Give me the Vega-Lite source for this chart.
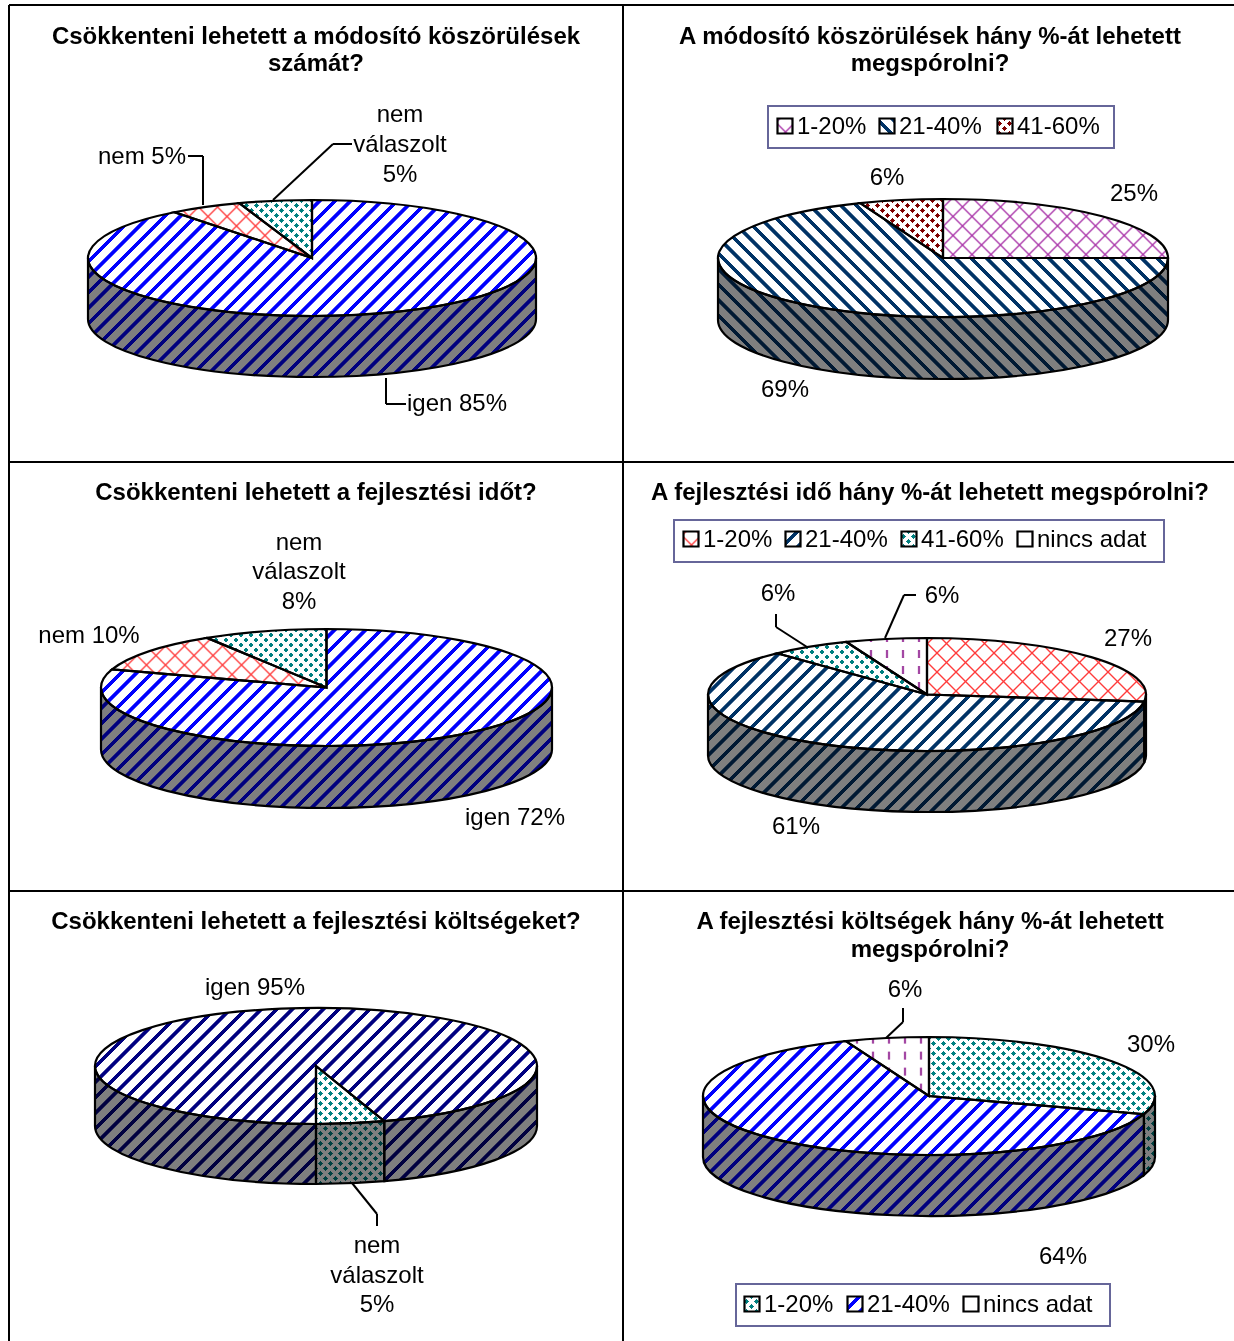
{
"$schema":"https://vega.github.io/schema/vega-lite/v6.json",
"autosize":{"type":"none"},"padding":0,"width":1234,"height":1341,"background":"white",
"config":{"view":{"stroke":null},"point":{"filled":true,"opacity":1,"size":4,"stroke":null},"text":{"font":"Liberation Sans","fontSize":24,"color":"#000","dy":1}},
"params":[
{"name":"w","value":"#fff"},{"name":"t","value":"rgba(255,255,255,0)"},{"name":"b","value":"#000"},{"name":"n","value":"rgba(0,0,0,0)"},
{"name":"corners","value":"M-240,-100L-240,-100M240,140L240,140"},
{"name":"S","expr":"[{offset:0,color:w},{offset:.009,color:w},{offset:.01,color:t},{offset:.019,color:t},{offset:.02,color:w},{offset:.029,color:w},{offset:.03,color:t},{offset:.039,color:t},{offset:.04,color:w},{offset:.049,color:w},{offset:.05,color:t},{offset:.059,color:t},{offset:.06,color:w},{offset:.069,color:w},{offset:.07,color:t},{offset:.079,color:t},{offset:.08,color:w},{offset:.089,color:w},{offset:.09,color:t},{offset:.099,color:t},{offset:.1,color:w},{offset:.109,color:w},{offset:.11,color:t},{offset:.119,color:t},{offset:.12,color:w},{offset:.129,color:w},{offset:.13,color:t},{offset:.139,color:t},{offset:.14,color:w},{offset:.149,color:w},{offset:.15,color:t},{offset:.159,color:t},{offset:.16,color:w},{offset:.169,color:w},{offset:.17,color:t},{offset:.179,color:t},{offset:.18,color:w},{offset:.189,color:w},{offset:.19,color:t},{offset:.199,color:t},{offset:.2,color:w},{offset:.209,color:w},{offset:.21,color:t},{offset:.219,color:t},{offset:.22,color:w},{offset:.229,color:w},{offset:.23,color:t},{offset:.239,color:t},{offset:.24,color:w},{offset:.249,color:w},{offset:.25,color:t},{offset:.259,color:t},{offset:.26,color:w},{offset:.269,color:w},{offset:.27,color:t},{offset:.279,color:t},{offset:.28,color:w},{offset:.289,color:w},{offset:.29,color:t},{offset:.299,color:t},{offset:.3,color:w},{offset:.309,color:w},{offset:.31,color:t},{offset:.319,color:t},{offset:.32,color:w},{offset:.329,color:w},{offset:.33,color:t},{offset:.339,color:t},{offset:.34,color:w},{offset:.349,color:w},{offset:.35,color:t},{offset:.359,color:t},{offset:.36,color:w},{offset:.369,color:w},{offset:.37,color:t},{offset:.379,color:t},{offset:.38,color:w},{offset:.389,color:w},{offset:.39,color:t},{offset:.399,color:t},{offset:.4,color:w},{offset:.409,color:w},{offset:.41,color:t},{offset:.419,color:t},{offset:.42,color:w},{offset:.429,color:w},{offset:.43,color:t},{offset:.439,color:t},{offset:.44,color:w},{offset:.449,color:w},{offset:.45,color:t},{offset:.459,color:t},{offset:.46,color:w},{offset:.469,color:w},{offset:.47,color:t},{offset:.479,color:t},{offset:.48,color:w},{offset:.489,color:w},{offset:.49,color:t},{offset:.499,color:t},{offset:.5,color:w},{offset:.509,color:w},{offset:.51,color:t},{offset:.519,color:t},{offset:.52,color:w},{offset:.529,color:w},{offset:.53,color:t},{offset:.539,color:t},{offset:.54,color:w},{offset:.549,color:w},{offset:.55,color:t},{offset:.559,color:t},{offset:.56,color:w},{offset:.569,color:w},{offset:.57,color:t},{offset:.579,color:t},{offset:.58,color:w},{offset:.589,color:w},{offset:.59,color:t},{offset:.599,color:t},{offset:.6,color:w},{offset:.609,color:w},{offset:.61,color:t},{offset:.619,color:t},{offset:.62,color:w},{offset:.629,color:w},{offset:.63,color:t},{offset:.639,color:t},{offset:.64,color:w},{offset:.649,color:w},{offset:.65,color:t},{offset:.659,color:t},{offset:.66,color:w},{offset:.669,color:w},{offset:.67,color:t},{offset:.679,color:t},{offset:.68,color:w},{offset:.689,color:w},{offset:.69,color:t},{offset:.699,color:t},{offset:.7,color:w},{offset:.709,color:w},{offset:.71,color:t},{offset:.719,color:t},{offset:.72,color:w},{offset:.729,color:w},{offset:.73,color:t},{offset:.739,color:t},{offset:.74,color:w},{offset:.749,color:w},{offset:.75,color:t},{offset:.759,color:t},{offset:.76,color:w},{offset:.769,color:w},{offset:.77,color:t},{offset:.779,color:t},{offset:.78,color:w},{offset:.789,color:w},{offset:.79,color:t},{offset:.799,color:t},{offset:.8,color:w},{offset:.809,color:w},{offset:.81,color:t},{offset:.819,color:t},{offset:.82,color:w},{offset:.829,color:w},{offset:.83,color:t},{offset:.839,color:t},{offset:.84,color:w},{offset:.849,color:w},{offset:.85,color:t},{offset:.859,color:t},{offset:.86,color:w},{offset:.869,color:w},{offset:.87,color:t},{offset:.879,color:t},{offset:.88,color:w},{offset:.889,color:w},{offset:.89,color:t},{offset:.899,color:t},{offset:.9,color:w},{offset:.909,color:w},{offset:.91,color:t},{offset:.919,color:t},{offset:.92,color:w},{offset:.929,color:w},{offset:.93,color:t},{offset:.939,color:t},{offset:.94,color:w},{offset:.949,color:w},{offset:.95,color:t},{offset:.959,color:t},{offset:.96,color:w},{offset:.969,color:w},{offset:.97,color:t},{offset:.979,color:t},{offset:.98,color:w},{offset:.989,color:w},{offset:.99,color:t},{offset:.999,color:t}]"},
{"name":"T","expr":"[{offset:.016,color:n},{offset:.02,color:b},{offset:.024,color:n},{offset:.056,color:n},{offset:.06,color:b},{offset:.064,color:n},{offset:.096,color:n},{offset:.1,color:b},{offset:.104,color:n},{offset:.136,color:n},{offset:.14,color:b},{offset:.144,color:n},{offset:.176,color:n},{offset:.18,color:b},{offset:.184,color:n},{offset:.216,color:n},{offset:.22,color:b},{offset:.224,color:n},{offset:.256,color:n},{offset:.26,color:b},{offset:.264,color:n},{offset:.296,color:n},{offset:.3,color:b},{offset:.304,color:n},{offset:.336,color:n},{offset:.34,color:b},{offset:.344,color:n},{offset:.376,color:n},{offset:.38,color:b},{offset:.384,color:n},{offset:.416,color:n},{offset:.42,color:b},{offset:.424,color:n},{offset:.456,color:n},{offset:.46,color:b},{offset:.464,color:n},{offset:.496,color:n},{offset:.5,color:b},{offset:.504,color:n},{offset:.536,color:n},{offset:.54,color:b},{offset:.544,color:n},{offset:.576,color:n},{offset:.58,color:b},{offset:.584,color:n},{offset:.616,color:n},{offset:.62,color:b},{offset:.624,color:n},{offset:.656,color:n},{offset:.66,color:b},{offset:.664,color:n},{offset:.696,color:n},{offset:.7,color:b},{offset:.704,color:n},{offset:.736,color:n},{offset:.74,color:b},{offset:.744,color:n},{offset:.776,color:n},{offset:.78,color:b},{offset:.784,color:n},{offset:.816,color:n},{offset:.82,color:b},{offset:.824,color:n},{offset:.856,color:n},{offset:.86,color:b},{offset:.864,color:n},{offset:.896,color:n},{offset:.9,color:b},{offset:.904,color:n},{offset:.936,color:n},{offset:.94,color:b},{offset:.944,color:n},{offset:.976,color:n},{offset:.98,color:b},{offset:.984,color:n}]"},
{"name":"gUp","expr":"{gradient:'linear',x1:-.09375,y1:0,x2:1.19792,y2:.64583,stops:S}"},
{"name":"gUp2","expr":"{gradient:'linear',x1:-.09896,y1:0,x2:1.19271,y2:.64583,stops:S}"},
{"name":"gDown","expr":"{gradient:'linear',x1:0,y1:1.02083,x2:1.29167,y2:.375,stops:S}"},
{"name":"gDown2","expr":"{gradient:'linear',x1:0,y1:1.03125,x2:1.29167,y2:.38542,stops:S}"},
{"name":"gDotU","expr":"{gradient:'linear',x1:.28125,y1:0,x2:1.11458,y2:.41667,stops:S}"},
{"name":"gDotD","expr":"{gradient:'linear',x1:0,y1:.25,x2:.83333,y2:-.16667,stops:S}"},
{"name":"gDash","expr":"{gradient:'linear',x1:0,y1:0,x2:0,y2:3.33333,stops:S}"},
{"name":"tUp","expr":"{gradient:'linear',x1:.1875,y1:0,x2:.97917,y2:.39583,stops:T}"},
{"name":"tDown","expr":"{gradient:'linear',x1:0,y1:.27083,x2:.79167,y2:-.125,stops:T}"},
{"name":"tVert","expr":"{gradient:'linear',x1:0,y1:0,x2:.83333,y2:0,stops:T}"}
],
"datasets":{
"slices":[
{"panel":"q1","n":1,"answer":"igen","pct":85},{"panel":"q1","n":2,"answer":"nem","pct":5},{"panel":"q1","n":3,"answer":"nem válaszolt","pct":5},
{"panel":"q2","n":1,"answer":"1-20%","pct":25},{"panel":"q2","n":2,"answer":"21-40%","pct":69},{"panel":"q2","n":3,"answer":"41-60%","pct":6},
{"panel":"q3","n":1,"answer":"igen","pct":72},{"panel":"q3","n":2,"answer":"nem","pct":10},{"panel":"q3","n":3,"answer":"nem válaszolt","pct":8},
{"panel":"q4","n":1,"answer":"1-20%","pct":27},{"panel":"q4","n":2,"answer":"21-40%","pct":61},{"panel":"q4","n":3,"answer":"41-60%","pct":6},{"panel":"q4","n":4,"answer":"nincs adat","pct":6},
{"panel":"q5","n":1,"answer":"igen","pct":95},{"panel":"q5","n":2,"answer":"nem válaszolt","pct":5},
{"panel":"q6","n":1,"answer":"1-20%","pct":30},{"panel":"q6","n":2,"answer":"21-40%","pct":64},{"panel":"q6","n":3,"answer":"nincs adat","pct":6}
],
"pieGeometry":[
{"panel":"q1","cx":312,"cy":258,"a":224,"b":58,"h":61,"rot":0},
{"panel":"q2","cx":943,"cy":258,"a":225,"b":59,"h":62,"rot":0},
{"panel":"q3","cx":326.5,"cy":687.5,"a":225.5,"b":58.5,"h":62,"rot":0},
{"panel":"q4","cx":927,"cy":694.5,"a":219,"b":56.5,"h":61,"rot":0},
{"panel":"q5","cx":316,"cy":1066,"a":221,"b":58,"h":60,"rot":180},
{"panel":"q6","cx":929,"cy":1096,"a":226,"b":59,"h":61,"rot":0}
],
"sliceStyle":[
{"id":"q1|igen","hue":"#0000FF","hatch":"up"},{"id":"q1|nem","hue":"#FF3B3B","hatch":"cross"},{"id":"q1|nem válaszolt","hue":"#008080","hatch":"dots"},
{"id":"q2|1-20%","hue":"#A833A8","hatch":"cross","lx":785,"ly":126},{"id":"q2|21-40%","hue":"#003366","hatch":"down","lx":887,"ly":126},{"id":"q2|41-60%","hue":"#800000","hatch":"dots","lx":1005,"ly":126},
{"id":"q3|igen","hue":"#0000FF","hatch":"up"},{"id":"q3|nem","hue":"#FF3B3B","hatch":"cross"},{"id":"q3|nem válaszolt","hue":"#008080","hatch":"dots"},
{"id":"q4|1-20%","hue":"#FF3B3B","hatch":"cross","lx":691,"ly":539},{"id":"q4|21-40%","hue":"#003366","hatch":"up","lx":793,"ly":539},{"id":"q4|41-60%","hue":"#008080","hatch":"dots","lx":909,"ly":539},{"id":"q4|nincs adat","hue":"#993399","hatch":"vdash","lx":1025,"ly":539},
{"id":"q5|igen","hue":"#000080","hatch":"up"},{"id":"q5|nem válaszolt","hue":"#008080","hatch":"dots"},
{"id":"q6|1-20%","hue":"#008080","hatch":"dots","lx":752,"ly":1304},{"id":"q6|21-40%","hue":"#0000FF","hatch":"up","lx":855,"ly":1304},{"id":"q6|nincs adat","hue":"#993399","hatch":"vdash","lx":971,"ly":1304}
],
"legendBoxes":[{"x":768,"x2":1114,"y":106,"y2":148},{"x":674,"x2":1164,"y":520,"y2":562},{"x":736,"x2":1110,"y":1284,"y2":1326}],
"tableLines":[
{"x":9,"y":5,"x2":9,"y2":1341},{"x":623,"y":5,"x2":623,"y2":1341},{"x":9,"y":5,"x2":1234,"y2":5},{"x":9,"y":462,"x2":1234,"y2":462},{"x":9,"y":891,"x2":1234,"y2":891}
],
"leaders":[
{"x":188,"y":156,"x2":203,"y2":156},{"x":203,"y":156,"x2":203,"y2":205},
{"x":352,"y":144,"x2":333,"y2":144},{"x":333,"y":144,"x2":273,"y2":200},
{"x":386,"y":378,"x2":386,"y2":404},{"x":386,"y":404,"x2":406,"y2":404},
{"x":776,"y":614,"x2":776,"y2":627},{"x":776,"y":627,"x2":807,"y2":647},
{"x":885,"y":638,"x2":904,"y2":595},{"x":904,"y":595,"x2":916,"y2":595},
{"x":352,"y":1183,"x2":377,"y2":1214},{"x":377,"y":1214,"x2":377,"y2":1226},
{"x":903,"y":1008,"x2":903,"y2":1022},{"x":903,"y":1022,"x2":886,"y2":1038}
],
"titles":[
{"text":"Csökkenteni lehetett a módosító köszörülések","x":316,"y":36},{"text":"számát?","x":316,"y":63},
{"text":"A módosító köszörülések hány %-át lehetett","x":930,"y":36},{"text":"megspórolni?","x":930,"y":63},
{"text":"Csökkenteni lehetett a fejlesztési időt?","x":316,"y":492},
{"text":"A fejlesztési idő hány %-át lehetett megspórolni?","x":930,"y":492},
{"text":"Csökkenteni lehetett a fejlesztési költségeket?","x":316,"y":921},
{"text":"A fejlesztési költségek hány %-át lehetett","x":930,"y":921},{"text":"megspórolni?","x":930,"y":949}
],
"labels":[
{"text":"nem","x":400,"y":114},{"text":"válaszolt","x":400,"y":144},{"text":"5%","x":400,"y":174},
{"text":"nem 5%","x":142,"y":156},{"text":"igen 85%","x":457,"y":403},
{"text":"25%","x":1134,"y":193},{"text":"6%","x":887,"y":177},{"text":"69%","x":785,"y":389},
{"text":"nem","x":299,"y":542},{"text":"válaszolt","x":299,"y":571},{"text":"8%","x":299,"y":601},
{"text":"nem 10%","x":89,"y":635},{"text":"igen 72%","x":515,"y":817},
{"text":"27%","x":1128,"y":638},{"text":"6%","x":778,"y":593},{"text":"6%","x":942,"y":595},{"text":"61%","x":796,"y":826},
{"text":"igen 95%","x":255,"y":987},
{"text":"nem","x":377,"y":1245},{"text":"válaszolt","x":377,"y":1275},{"text":"5%","x":377,"y":1304},
{"text":"6%","x":905,"y":989},{"text":"30%","x":1151,"y":1044},{"text":"64%","x":1063,"y":1256}
]
},
"layer":[
{"data":{"name":"tableLines"},"mark":{"type":"rule","stroke":"#000","strokeWidth":2},
 "encoding":{"x":{"field":"x","type":"quantitative","scale":{"domain":[0,1234]},"axis":null},"y":{"field":"y","type":"quantitative","scale":{"domain":[1341,0]},"axis":null},"x2":{"field":"x2"},"y2":{"field":"y2"}}},
{"data":{"name":"legendBoxes"},"mark":{"type":"rect","fill":"white","stroke":"#666699","strokeWidth":2},
 "encoding":{"x":{"field":"x","type":"quantitative","scale":{"domain":[0,1234]},"axis":null},"y":{"field":"y","type":"quantitative","scale":{"domain":[1341,0]},"axis":null},"x2":{"field":"x2"},"y2":{"field":"y2"}}},
{"data":{"name":"slices"},
 "transform":[
 {"calculate":"datum.panel+'|'+datum.answer","as":"id"},
 {"lookup":"id","from":{"data":{"name":"sliceStyle"},"key":"id","fields":["hue","hatch","lx","ly"]}},
 {"lookup":"panel","from":{"data":{"name":"pieGeometry"},"key":"panel","fields":["cx","cy","a","b","h","rot"]}},
 {"stack":"pct","groupby":["panel"],"sort":[{"field":"n","order":"ascending"}],"offset":"normalize","as":["f0","f1"]},
 {"calculate":"datum.rot+360*datum.f0","as":"t0"},
 {"calculate":"datum.rot+360*datum.f1","as":"t1"},
 {"calculate":"datum.a*sin(datum.t0*PI/180)","as":"x0"},
 {"calculate":"-datum.b*cos(datum.t0*PI/180)","as":"y0"},
 {"calculate":"datum.a*sin(datum.t1*PI/180)","as":"x1"},
 {"calculate":"-datum.b*cos(datum.t1*PI/180)","as":"y1"},
 {"calculate":"'M0,0L'+datum.x0+','+datum.y0+'A'+datum.a+','+datum.b+' 0 '+(datum.t1-datum.t0>180?1:0)+' 1 '+datum.x1+','+datum.y1+'Z'+corners","as":"topPath"},
 {"calculate":"max(datum.t0,90)","as":"sa"},
 {"calculate":"min(datum.t1,270)","as":"ea"},
 {"calculate":"max(datum.t0,450)","as":"sb"},
 {"calculate":"min(datum.t1,630)","as":"eb"},
 {"calculate":"datum.ea>datum.sa?'M'+datum.a*sin(datum.sa*PI/180)+','+(-datum.b*cos(datum.sa*PI/180))+'A'+datum.a+','+datum.b+' 0 0 1 '+datum.a*sin(datum.ea*PI/180)+','+(-datum.b*cos(datum.ea*PI/180))+'L'+datum.a*sin(datum.ea*PI/180)+','+(datum.h-datum.b*cos(datum.ea*PI/180))+'A'+datum.a+','+datum.b+' 0 0 0 '+datum.a*sin(datum.sa*PI/180)+','+(datum.h-datum.b*cos(datum.sa*PI/180))+'Z':''","as":"sideA"},
 {"calculate":"datum.eb>datum.sb?'M'+datum.a*sin(datum.sb*PI/180)+','+(-datum.b*cos(datum.sb*PI/180))+'A'+datum.a+','+datum.b+' 0 0 1 '+datum.a*sin(datum.eb*PI/180)+','+(-datum.b*cos(datum.eb*PI/180))+'L'+datum.a*sin(datum.eb*PI/180)+','+(datum.h-datum.b*cos(datum.eb*PI/180))+'A'+datum.a+','+datum.b+' 0 0 0 '+datum.a*sin(datum.sb*PI/180)+','+(datum.h-datum.b*cos(datum.sb*PI/180))+'Z':''","as":"sideB"},
 {"calculate":"(datum.sideA+datum.sideB)==''?'':datum.sideA+datum.sideB+corners","as":"sidePath"},
 {"calculate":"isValid(datum.lx)?'M-7.5,-7.5L7.5,-7.5L7.5,7.5L-7.5,7.5Z'+corners:''","as":"legendPath"},
 {"calculate":"datum.hatch=='cross'||datum.hatch=='vdash'?'#fff':datum.hue","as":"base"},
 {"fold":["topPath","sidePath","legendPath"],"as":["face","path"]},
 {"filter":"datum.path!=''"},
 {"calculate":"datum.face=='legendPath'?datum.lx:datum.cx","as":"px"},
 {"calculate":"datum.face=='legendPath'?datum.ly:datum.cy","as":"py"}
 ],
 "encoding":{
  "x":{"field":"px","type":"quantitative","scale":{"domain":[0,1234]},"axis":null},
  "y":{"field":"py","type":"quantitative","scale":{"domain":[1341,0]},"axis":null}
 },
 "layer":[
 {"mark":{"type":"point"},"encoding":{"shape":{"field":"path","type":"nominal","scale":null,"legend":null},"fill":{"field":"base","type":"nominal","scale":null,"legend":null}}},
 {"transform":[{"filter":"datum.hatch=='up'"}],"mark":{"type":"point","fill":{"expr":"gUp"}},"encoding":{"shape":{"field":"path","type":"nominal","scale":null,"legend":null}}},
 {"transform":[{"filter":"datum.hatch=='up'"}],"mark":{"type":"point","fill":{"expr":"gUp2"}},"encoding":{"shape":{"field":"path","type":"nominal","scale":null,"legend":null}}},
 {"transform":[{"filter":"datum.hatch=='down'"}],"mark":{"type":"point","fill":{"expr":"gDown"}},"encoding":{"shape":{"field":"path","type":"nominal","scale":null,"legend":null}}},
 {"transform":[{"filter":"datum.hatch=='down'"}],"mark":{"type":"point","fill":{"expr":"gDown2"}},"encoding":{"shape":{"field":"path","type":"nominal","scale":null,"legend":null}}},
 {"transform":[{"filter":"datum.hatch=='dots'"}],"mark":{"type":"point","fill":{"expr":"gDotU"}},"encoding":{"shape":{"field":"path","type":"nominal","scale":null,"legend":null}}},
 {"transform":[{"filter":"datum.hatch=='dots'"}],"mark":{"type":"point","fill":{"expr":"gDotD"}},"encoding":{"shape":{"field":"path","type":"nominal","scale":null,"legend":null}}},
 {"transform":[{"filter":"datum.hatch=='cross'"}],"mark":{"type":"point","fill":{"expr":"tUp"}},"encoding":{"shape":{"field":"path","type":"nominal","scale":null,"legend":null}}},
 {"transform":[{"filter":"datum.hatch=='cross'"}],"mark":{"type":"point","fill":{"expr":"tDown"}},"encoding":{"shape":{"field":"path","type":"nominal","scale":null,"legend":null}}},
 {"transform":[{"filter":"datum.hatch=='vdash'"}],"mark":{"type":"point","fill":{"expr":"tVert"}},"encoding":{"shape":{"field":"path","type":"nominal","scale":null,"legend":null}}},
 {"transform":[{"filter":"datum.hatch=='vdash'"}],"mark":{"type":"point","fill":{"expr":"tVert"}},"encoding":{"shape":{"field":"path","type":"nominal","scale":null,"legend":null}}},
 {"transform":[{"filter":"datum.hatch=='vdash'"}],"mark":{"type":"point","fill":{"expr":"gDash"}},"encoding":{"shape":{"field":"path","type":"nominal","scale":null,"legend":null}}},
 {"transform":[{"filter":"datum.hatch=='cross'||datum.hatch=='vdash'"}],"mark":{"type":"point","blend":"screen"},"encoding":{"shape":{"field":"path","type":"nominal","scale":null,"legend":null},"fill":{"field":"hue","type":"nominal","scale":null,"legend":null}}},
 {"transform":[{"filter":"datum.face=='sidePath'"}],"mark":{"type":"point","fill":"#000","opacity":0.5},"encoding":{"shape":{"field":"path","type":"nominal","scale":null,"legend":null}}},
 {"mark":{"type":"point","filled":false,"fill":"transparent","stroke":"#000","strokeWidth":2.2},"encoding":{"shape":{"field":"path","type":"nominal","scale":null,"legend":null}}},
 {"transform":[{"filter":"datum.face=='legendPath'"}],"mark":{"type":"text","align":"left","baseline":"middle","dx":12},"encoding":{"text":{"field":"answer","type":"nominal"}}}
 ]},
{"data":{"name":"leaders"},"mark":{"type":"rule","stroke":"#000","strokeWidth":2},
 "encoding":{"x":{"field":"x","type":"quantitative","scale":{"domain":[0,1234]},"axis":null},"y":{"field":"y","type":"quantitative","scale":{"domain":[1341,0]},"axis":null},"x2":{"field":"x2"},"y2":{"field":"y2"}}},
{"data":{"name":"titles"},"mark":{"type":"text","fontWeight":"bold","align":"center","baseline":"middle"},
 "encoding":{"x":{"field":"x","type":"quantitative","scale":{"domain":[0,1234]},"axis":null},"y":{"field":"y","type":"quantitative","scale":{"domain":[1341,0]},"axis":null},"text":{"field":"text","type":"nominal"}}},
{"data":{"name":"labels"},"mark":{"type":"text","align":"center","baseline":"middle"},
 "encoding":{"x":{"field":"x","type":"quantitative","scale":{"domain":[0,1234]},"axis":null},"y":{"field":"y","type":"quantitative","scale":{"domain":[1341,0]},"axis":null},"text":{"field":"text","type":"nominal"}}}
]
}
